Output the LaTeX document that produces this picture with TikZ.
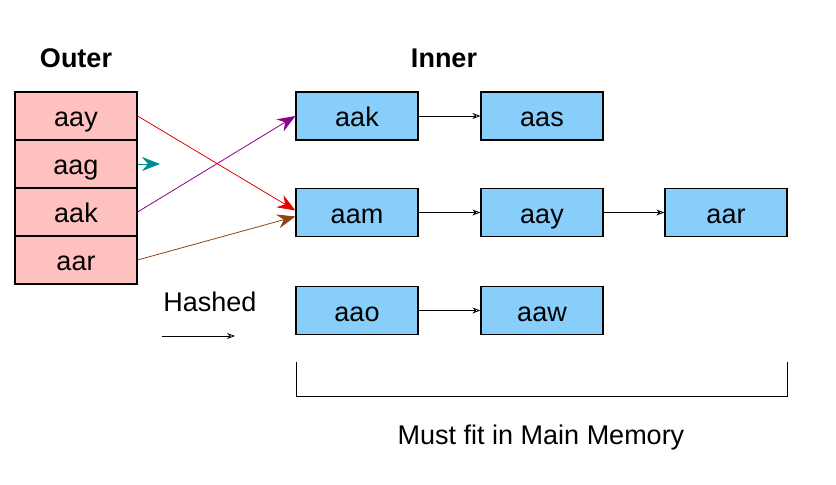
\documentclass[tikz,border=0pt]{standalone}
\usepackage{fontspec}
\setmainfont{Liberation Sans}
\usetikzlibrary{arrows.meta}
\definecolor{outerpink}{RGB}{255,192,192}
\definecolor{innerblue}{RGB}{135,206,250}
\definecolor{hashpurple}{RGB}{140,0,140}
\definecolor{hashteal}{RGB}{0,140,140}
\definecolor{hashbrown}{RGB}{140,70,20}
\definecolor{hashred}{RGB}{230,0,0}
\begin{document}
\begin{tikzpicture}[x=0.5pt,y=-0.5pt,
        font=\fontsize{13.5}{16}\selectfont,
        outerbox/.style={draw, fill=outerpink, line width=0.6pt,
            minimum width=61pt, minimum height=24pt, inner sep=0pt,
            text height=11pt, text depth=0pt},
        innerbox/.style={draw, fill=innerblue, line width=0.6pt,
            minimum width=61pt, minimum height=24pt, inner sep=0pt,
            text height=11pt, text depth=0pt},
        chainarrow/.style={-{Stealth[open,length=4pt,width=3pt]}, line width=0.4pt},
        hasharrow/.style={-{Stealth[length=9pt,width=7pt,inset=3pt]}, line width=0.4pt}]
            \useasboundingbox (0,0) rectangle (836,485);

            % Titles
            \node[font=\fontsize{13.5}{16}\selectfont\bfseries] (outertitle) at (76,58) {Outer};
            \node[font=\fontsize{13.5}{16}\selectfont\bfseries] (innertitle) at (444,58) {Inner};

            % Outer relation
            \node[outerbox] (oaay) at (76,116) {aay};
            \node[outerbox] (oaag) at (76,164) {aag};
            \node[outerbox] (oaak) at (76,212) {aak};
            \node[outerbox] (oaar) at (76,260) {aar};

            % Inner relation (hash buckets)
            \node[innerbox] (iaak) at (357,116) {aak};
            \node[innerbox] (iaas) at (542,116) {aas};
            \node[innerbox] (iaam) at (357,212.5) {aam};
            \node[innerbox] (iaay) at (542,212.5) {aay};
            \node[innerbox] (iaar) at (726,212.5) {aar};
            \node[innerbox] (iaao) at (357,310.5) {aao};
            \node[innerbox] (iaaw) at (542,310.5) {aaw};

            \draw[chainarrow] (iaak) -- (iaas);
            \draw[chainarrow] (iaam) -- (iaay);
            \draw[chainarrow] (iaay) -- (iaar);
            \draw[chainarrow] (iaao) -- (iaaw);

            % Probes
            \coordinate (aagend) at (160,164);
            \draw[hasharrow, hashred] (oaay.east) -- ([yshift=1pt]iaam.west);
            \draw[hasharrow, hashteal] (oaag.east) -- (aagend);
            \draw[hasharrow, hashpurple] (oaak.east) -- (iaak.west);
            \draw[hasharrow, hashbrown] (oaar.east) -- ([yshift=-2pt]iaam.west);

            % Legend
            \node (hashed) at (210,302) {Hashed};
            \coordinate (legstart) at (162,336);
            \coordinate (legend) at (235,336);
            \draw[chainarrow] (legstart) -- (legend);

            % Memory bracket
            \coordinate (brtl) at (296,362);
            \coordinate (brbl) at (296,397);
            \coordinate (brbr) at (787,397);
            \coordinate (brtr) at (787,362);
            \draw[line width=0.5pt] (brtl) -- (brbl) -- (brbr) -- (brtr);
            \node (memory) at (541,438) {Must fit in Main Memory};

\end{tikzpicture}
\end{document}
